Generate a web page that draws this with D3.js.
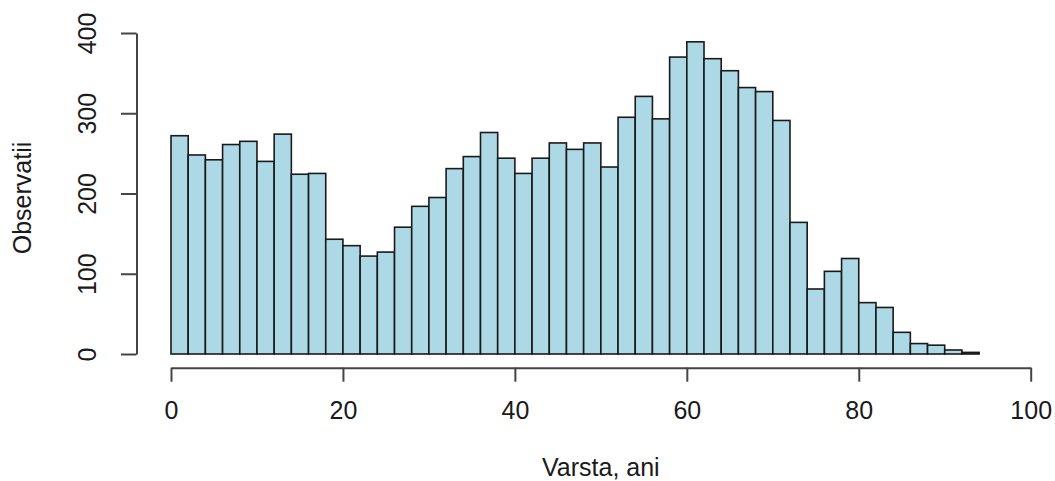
<!DOCTYPE html>
<html>
<head>
<meta charset="utf-8">
<script src="https://cdn.jsdelivr.net/npm/d3@7"></script>
<style>
  body { margin: 0; background: #fff; }
  text { font-family: "Liberation Sans", Arial, sans-serif; fill: #1a1a1a; }
</style>
</head>
<body>
<div class="chart"></div>
<script>
// histogram of ages, bins of 2 years starting at 0
var binStart = 0;
var binWidth = 2;
var counts = [
  272, 248, 242, 261, 265, 240, 274, 224, 225, 143,
  135, 122, 127, 158, 184, 195, 231, 246, 276, 244,
  225, 244, 263, 255, 263, 233, 295, 321, 293, 370,
  389, 368, 353, 332, 327, 291, 164, 81, 103, 119,
  64, 58, 27, 13, 11, 5, 2
];
var xTicks = [0, 20, 40, 60, 80, 100];
var yTicks = [0, 100, 200, 300, 400];
var xTitle = 'Varsta, ani';
var yTitle = 'Observatii';

var width = 1055, height = 481;

var svg = d3.select('.chart')
  .append('svg')
  .attr('width', width)
  .attr('height', height);

// scales
var x = d3.scaleLinear().domain([0, 100]).range([171, 1030.7]);
var y = d3.scaleLinear().domain([0, 400]).range([354, 33]);

// bars
svg.append('g')
  .selectAll('rect')
  .data(counts)
  .enter().append('rect')
  .attr('x', function(d, i) { return x(binStart + i * binWidth); })
  .attr('width', function(d, i) { return x(binStart + (i + 1) * binWidth) - x(binStart + i * binWidth); })
  .attr('y', function(d) { return y(d); })
  .attr('height', function(d) { return y(0) - y(d); })
  .attr('fill', '#add8e6')
  .attr('stroke', '#1a1a1a')
  .attr('stroke-width', 1.6);

// x axis
var xAxis = svg.append('g')
  .attr('transform', 'translate(0,367.7)')
  .call(d3.axisBottom(x).tickValues(xTicks).tickSize(14).tickSizeOuter(0).tickFormat(d3.format('d')));

xAxis.selectAll('text')
  .attr('y', 42.8)
  .attr('dy', '0.35em')
  .style('font-size', '25px');

// y axis
var yAxis = svg.append('g')
  .attr('transform', 'translate(136.5,0)')
  .call(d3.axisLeft(y).tickValues(yTicks).tickSize(15.5).tickSizeOuter(0).tickFormat(d3.format('d')));

yAxis.selectAll('text')
  .attr('x', 0)
  .attr('y', 0)
  .attr('dy', '0.35em')
  .attr('text-anchor', 'middle')
  .attr('transform', 'translate(-49,0) rotate(-90)')
  .style('font-size', '25px');

svg.selectAll('.domain, .tick line')
  .attr('stroke', '#444')
  .attr('stroke-width', 2);

// titles
svg.append('text')
  .attr('x', (x(0) + x(100)) / 2)
  .attr('y', 476)
  .attr('text-anchor', 'middle')
  .style('font-size', '25px')
  .text(xTitle);

svg.append('text')
  .attr('transform', 'translate(22,198) rotate(-90)')
  .attr('dy', '0.35em')
  .attr('text-anchor', 'middle')
  .style('font-size', '25px')
  .text(yTitle);
</script>
</body>
</html>
